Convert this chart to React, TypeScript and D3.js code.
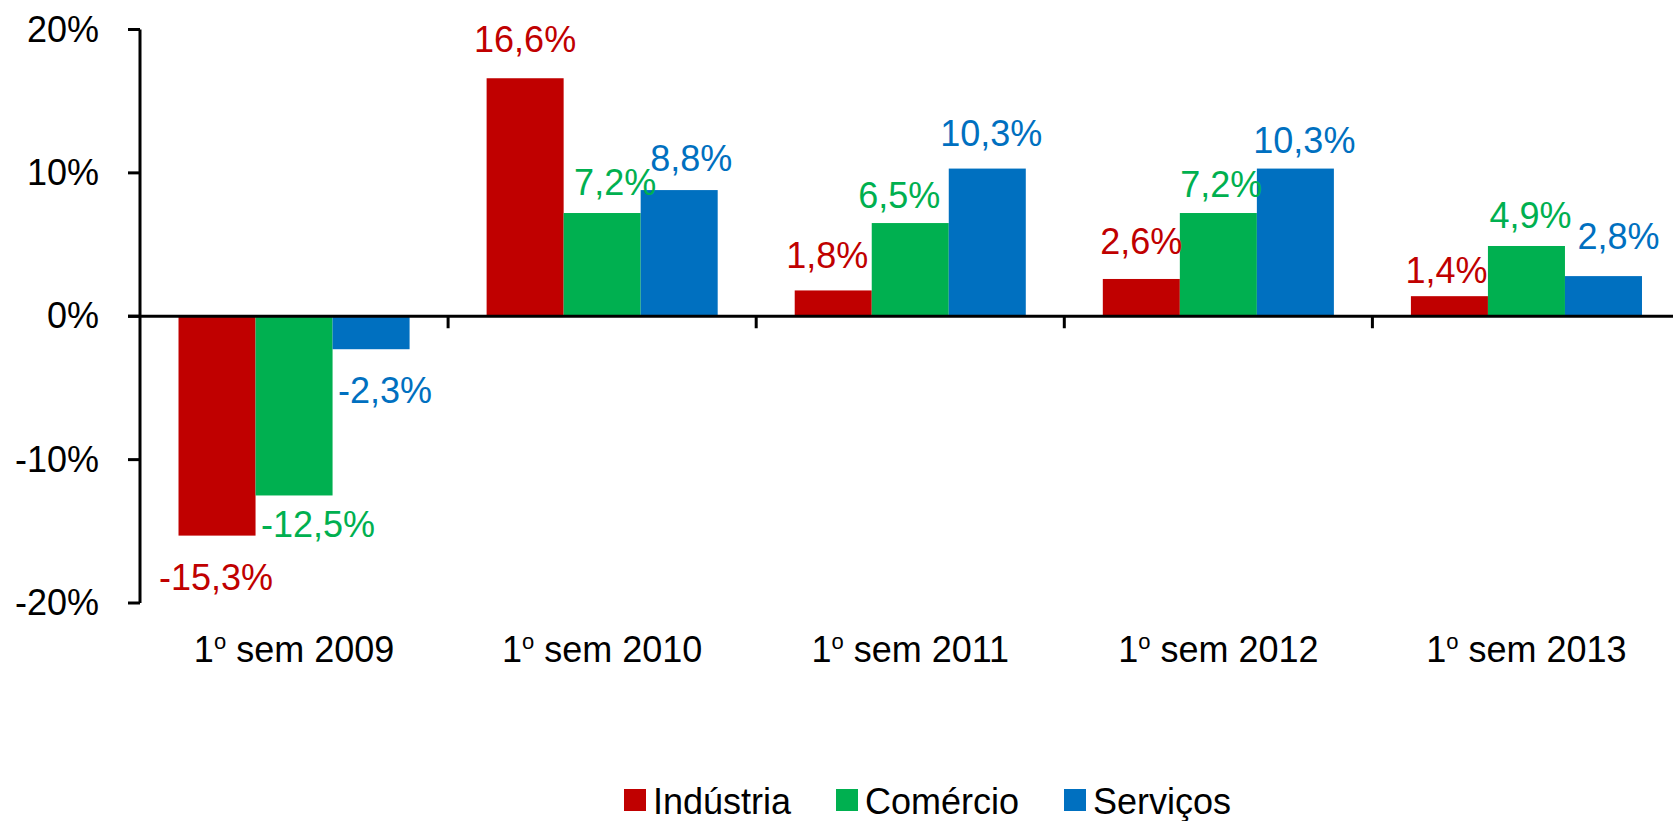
import React from "react";
import * as d3 from "d3";

const categories = ["2009", "2010", "2011", "2012", "2013"];
const seriesNames = ["Indústria", "Comércio", "Serviços"];
const industria = [-15.3, 16.6, 1.8, 2.6, 1.4];
const comercio = [-12.5, 7.2, 6.5, 7.2, 4.9];
const servicos = [-2.3, 8.8, 10.3, 10.3, 2.8];
const yTicks = [-20, -10, 0, 10, 20];

// label placement (distance from bar end to baseline, horizontal nudge)
const labelGap = [
  [54.7, 26.3, 22, 25, 13.3],
  [41.4, 18, 15, 15.6, 18.3],
  [53.8, 19, 23, 16, 26.7],
];
const labelDx = [
  [-1, 0, -6, 0, -3],
  [24, 13, -11, 3, 4],
  [14, 12, 4, 9, 15],
];

const colors = ["#C00000", "#00B050", "#0070C0"];
const FONT = "'Liberation Sans', Arial, sans-serif";

export default function App() {
  const W = 1673, H = 821;
  const left = 140;
  const step = 308.1;
  const x0 = d3.scaleBand<string>().domain(categories).range([left, left + step * 5]).paddingInner(0.25).paddingOuter(0.125);
  const x1 = d3.scaleBand<string>().domain(seriesNames).range([0, x0.bandwidth()]).padding(0);
  const y = d3.scaleLinear().domain([-20, 20]).range([603, 29.5]);
  const y0 = y(0);
  const data = [industria, comercio, servicos];
  const fmt = (v: number) => v.toFixed(1).replace(".", ",") + "%";
  const boundaries = d3.range(1, 5).map((k) => left + k * x0.step());

  const legendX = [624, 836, 1064];

  return (
    <svg width={W} height={H} style={{ position: "absolute", left: 0, top: 0, background: "#fff" }} fontFamily={FONT}>
      <rect x={0} y={0} width={W} height={H} fill="#fff" />
      {/* bars */}
      {data.map((vals, si) =>
        vals.map((v, ci) => {
          const bx = (x0(categories[ci]) as number) + (x1(seriesNames[si]) as number);
          const top = Math.min(y(v), y0);
          const h = Math.abs(y(v) - y0);
          return <rect key={`b${si}-${ci}`} x={bx} y={top} width={x1.bandwidth()} height={h} fill={colors[si]} />;
        })
      )}
      {/* y axis */}
      <line x1={left} x2={left} y1={y(20)} y2={y(-20)} stroke="#000" strokeWidth={3} />
      {yTicks.map((t) => (
        <g key={`yt${t}`}>
          <line x1={left - 12} x2={left} y1={y(t)} y2={y(t)} stroke="#000" strokeWidth={3} />
          <text x={99} y={y(t) + 12} textAnchor="end" fontSize={36} fill="#000">
            {t + "%"}
          </text>
        </g>
      ))}
      {/* x axis */}
      <line x1={left - 12} x2={W} y1={y0} y2={y0} stroke="#000" strokeWidth={3} />
      {boundaries.map((bx, i) => (
        <line key={`xt${i}`} x1={bx} x2={bx} y1={y0} y2={y0 + 12} stroke="#000" strokeWidth={3} />
      ))}
      {/* category labels */}
      {categories.map((c) => {
        const cx = (x0(c) as number) + x0.bandwidth() / 2;
        return (
          <text key={`cl${c}`} x={cx} y={661.7} textAnchor="middle" fontSize={36} fill="#000">
            1
            <tspan fontSize={22} dy={-12.7}>o</tspan>
            <tspan dy={12.7}>{" sem " + c}</tspan>
          </text>
        );
      })}
      {/* value labels */}
      {data.map((vals, si) =>
        vals.map((v, ci) => {
          const bx = (x0(categories[ci]) as number) + (x1(seriesNames[si]) as number) + x1.bandwidth() / 2;
          const by = y(v) + (v >= 0 ? -labelGap[si][ci] : labelGap[si][ci]);
          return (
            <text key={`l${si}-${ci}`} x={bx + labelDx[si][ci]} y={by} textAnchor="middle" fontSize={36} fill={colors[si]}>
              {fmt(v)}
            </text>
          );
        })
      )}
      {/* legend */}
      {seriesNames.map((n, i) => (
        <g key={`lg${i}`}>
          <rect x={legendX[i]} y={789} width={22} height={22} fill={colors[i]} />
          <text x={legendX[i] + 29} y={814} fontSize={36} fill="#000">
            {n}
          </text>
        </g>
      ))}
    </svg>
  );
}
